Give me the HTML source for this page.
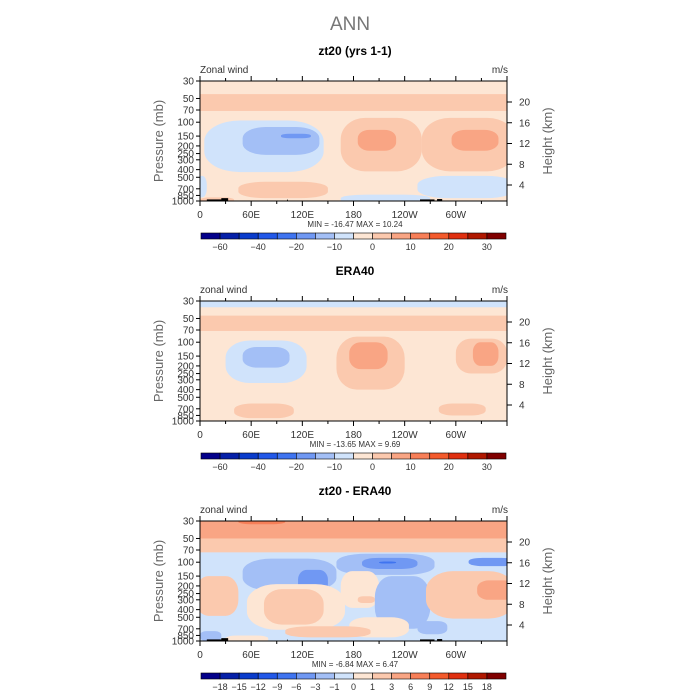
<!DOCTYPE html>
<html><head><meta charset="utf-8"><style>
html,body{margin:0;padding:0;background:#fff}
svg{display:block}
text{font-family:"Liberation Sans",sans-serif}
</style></head><body>
<svg id="chart" width="700" height="700" viewBox="0 0 700 700" xmlns="http://www.w3.org/2000/svg">
<text x="350" y="30" text-anchor="middle" font-size="19" fill="#777">ANN</text>
</svg>
<script>
// ---- data ----
const colors = ['#03008a','#0520a8','#0a3ccc','#2258e8','#3f74f0','#7098f3','#a3bff6','#d0e3fb','#fde6d4','#fbc9ae','#f9a584','#f77f58','#f35a2c','#e03010','#b01800','#800000'];
const pressureTicks = [30,50,70,100,150,200,250,300,400,500,700,850,1000];
const heightTicks = [20,16,12,8,4];
const lonTicks = [0,60,120,180,240,300];
const lonLabels = ['0','60E','120E','180','120W','60W'];
const panelTitles = ['zt20 (yrs 1-1)','ERA40','zt20 - ERA40'];
const leftLabels = ['Zonal wind','zonal wind','zonal wind'];
const minMax = [['-16.47','10.24'],['-13.65','9.69'],['-6.84','6.47']];
const cbLabelsA = ['','-60','','-40','','-20','','-10','','0','','10','','20','','30'];
const cbLabelsB = ['','-18','-15','-12','-9','-6','-3','-1','0','1','3','6','9','12','15','18'];
const panelBg = [8,8,8];
// blobs: [lon0, lon1, pTop, pBottom, level, rounded]
const blobs1 = [
 [0,360,44,72,9,0],[5,145,95,430,7,1],[50,140,115,260,6,1],[95,130,140,160,5,1],
 [165,260,88,420,9,1],[185,230,125,230,10,1],[260,370,88,420,9,1],[295,350,125,230,10,1],
 [-10,8,480,900,7,1],[45,150,570,920,9,1],[165,270,830,1080,7,1],[255,370,480,920,7,1],[0,40,900,1080,9,1]
];
const blobs2 = [
 [0,360,28,36,7,0],[0,360,46,72,9,0],[30,125,95,330,7,1],[50,105,115,210,6,1],
 [160,240,85,400,9,1],[175,220,100,220,10,1],[300,360,90,250,9,1],[320,350,100,200,10,1],
 [40,110,600,920,9,1],[280,335,600,850,9,1]
];
const blobs3 = [
 [0,360,28,56,10,0],[45,100,28,33,11,1],[0,360,50,80,9,0],[0,360,75,1000,7,0],
 [0,110,80,150,7,1],[50,160,90,230,6,1],[160,275,78,145,6,1],[190,255,88,122,5,1],[210,230,98,104,4,1],
 [115,150,125,250,5,1],[315,370,88,112,5,1],
 [-5,45,150,480,9,1],[55,170,190,720,8,1],[75,145,220,620,9,1],[165,210,130,380,8,1],[185,205,270,330,9,1],
 [205,270,150,700,6,1],[265,370,130,520,9,1],[325,370,170,300,10,1],[175,245,500,900,8,1],
 [255,290,560,820,6,1],[0,25,750,1000,6,1],[100,200,650,900,9,1],[30,80,850,1050,8,1]
];
const topo = [[8,27,955],[25,33,920],[102,103,960],[258,275,955],[278,284,945]];
const showTopo = [true,false,true];
// ---- layout ----
const svg = document.getElementById('chart');
const NS = 'http://www.w3.org/2000/svg';
const X0 = 200, X1 = 507, PH = 120, offsets = [81,301,521];
function mk(tag, attrs, parent){const e=document.createElementNS(NS,tag);for(const k in attrs)e.setAttribute(k,attrs[k]);(parent||svg).appendChild(e);return e;}
const xs = lon => X0 + lon/360*(X1-X0);
function ysF(top){return p => top + (Math.log(p)-Math.log(30))/(Math.log(1000)-Math.log(30))*PH;}
const blobSets=[blobs1,blobs2,blobs3];
const cbLabelSets=[cbLabelsA,cbLabelsA,cbLabelsB];
offsets.forEach((top,i)=>{
  const ys = ysF(top);
  const g = mk('g',{});
  
  
  const cp = mk('clipPath',{id:'cp'+i},g);
  mk('rect',{x:X0,y:top,width:X1-X0,height:PH},cp);
  const pg = mk('g',{'clip-path':'url(#cp'+i+')'},g);
  const bg = mk('rect',{x:X0,y:top,width:X1-X0,height:PH,fill:colors[panelBg[i]]},pg);
  
  
  blobSets[i].forEach(b=>{
    const x0=xs(b[0]),x1=xs(b[1]),y0=ys(b[2]),y1=ys(b[3]);
    const w=x1-x0,h=y1-y0;
    const r = mk('rect',{x:x0,y:y0,width:w,height:h,fill:colors[b[4]],rx:b[5]?w*0.3:0,ry:b[5]?h*0.4:0},pg);
    
    
  });
  if(showTopo[i]) topo.forEach(t=>{
    const r=mk('rect',{x:xs(t[0]),y:ys(t[2]),width:xs(t[1])-xs(t[0]),height:top+PH-ys(t[2]),fill:'#000'},pg);
    
    
  });
  mk('rect',{x:X0,y:top,width:X1-X0,height:PH,fill:'none',stroke:'#000','stroke-width':1},g);
  const t=mk('text',{x:355,y:top-26,'text-anchor':'middle','font-size':12,'font-weight':'bold'},g);
  t.textContent=panelTitles[i];
  
  
  const l=mk('text',{x:200,y:top-8,'font-size':10,fill:'#333'},g); l.textContent=leftLabels[i];
  
  
  const u=mk('text',{x:508,y:top-8,'text-anchor':'end','font-size':10,fill:'#333'},g); u.textContent='m/s';
  
  
  pressureTicks.forEach(p=>{
    mk('line',{x1:X0-4,x2:X0,y1:ys(p),y2:ys(p),stroke:'#000'},g);
    const tx=mk('text',{x:X0-6,y:ys(p)+3.5,'text-anchor':'end','font-size':10,fill:'#333'},g); tx.textContent=p;
    
    
  });
  const py=mk('text',{x:0,y:0,'text-anchor':'middle','font-size':13,fill:'#666',transform:`translate(163,${top+60}) rotate(-90)`},g);
  py.textContent='Pressure (mb)';
  
  
  heightTicks.forEach(hk=>{
    const yy = top+21+(20-hk)/16*83;
    mk('line',{x1:X1,x2:X1+5,y1:yy,y2:yy,stroke:'#000'},g);
    const tx=mk('text',{x:X1+12,y:yy+3.5,'font-size':10,fill:'#333'},g); tx.textContent=hk;
    
    
  });
  const hy=mk('text',{x:0,y:0,'text-anchor':'middle','font-size':13,fill:'#666',transform:`translate(552,${top+60}) rotate(-90)`},g);
  hy.textContent='Height (km)';
  
  
  for(let lon=0;lon<=360;lon+=30){
    const big = lon%60===0;
    mk('line',{x1:xs(lon),x2:xs(lon),y1:top+PH,y2:top+PH+(big?5:3),stroke:'#000'},g);
    mk('line',{x1:xs(lon),x2:xs(lon),y1:top,y2:top-(big?5:3),stroke:'#000'},g);
  }
  lonTicks.forEach((lon,k)=>{
    const tx=mk('text',{x:xs(lon),y:top+PH+17,'text-anchor':'middle','font-size':10,fill:'#333'},g); tx.textContent=lonLabels[k];
    
    
  });
  const mm=mk('text',{x:355,y:top+PH+26,'text-anchor':'middle','font-size':8,fill:'#333','xml:space':'preserve'},g);
  mm.textContent='MIN = '+minMax[i][0]+'   MAX =  '+minMax[i][1];
  
  
  const cb = mk('g',{},g);
  
  
  const cy = top+152, bw=(506-201)/16;
  colors.forEach((c,k)=>{
    const r=mk('rect',{x:201+k*bw,y:cy,width:bw,height:6,fill:c,stroke:'#000','stroke-width':0.6},cb);
    
    
  });
  cbLabelSets[i].forEach((s,k)=>{
    if(!s) return;
    const tx=mk('text',{x:201+k*bw,y:cy+17,'text-anchor':'middle','font-size':9,fill:'#333'},cb); tx.textContent=s.replace('-','\u2212');
    
    
  });
});
</script>
</body></html>
